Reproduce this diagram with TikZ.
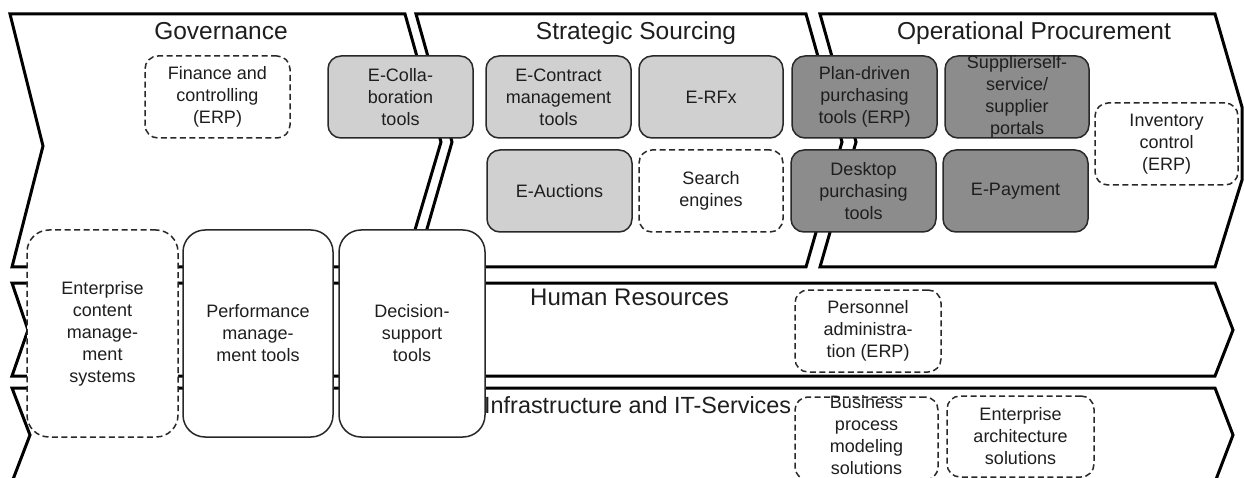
\documentclass[tikz,border=0pt]{standalone}
\usepackage{fontspec}
\setmainfont{Liberation Sans}
\definecolor{lightfill}{RGB}{208,208,208}
\definecolor{darkfill}{RGB}{140,140,140}
\definecolor{edgegray}{RGB}{40,40,40}
\definecolor{txtgray}{RGB}{30,30,30}
\newcommand\mybxfont{\fontsize{18}{22}\selectfont}
\newcommand\myhdfont{\fontsize{24.5}{29}\selectfont}
\begin{document}
\begin{tikzpicture}[x=1pt,y=-1pt,
  chev/.style={draw=black, line width=3pt, fill=white, line join=miter},
  basebox/.style={rectangle, rounded corners=13pt, line width=1.5pt, draw=edgegray, inner sep=0pt, align=center, font=\mybxfont, text=txtgray},
  lbox/.style={basebox, fill=lightfill},
  dbox/.style={basebox, fill=darkfill},
  dashbox/.style={basebox, fill=white, dash pattern=on 6pt off 3.5pt},
  tallbox/.style={basebox, fill=white, rounded corners=22pt},
  talldash/.style={dashbox, rounded corners=22pt},
  heading/.style={font=\myhdfont, inner sep=0pt, anchor=base, text=txtgray},
  boxtxt/.style={inner sep=0pt, align=center, font=\mybxfont, text=txtgray}
]
\useasboundingbox (0,0) rectangle (1244,478);
\clip (0,0) rectangle (1244,478);

% chevrons
\draw[chev] (10,14) -- (405,14) -- (441,142) -- (404,267) -- (12,267) -- (43,146) -- cycle;
\draw[chev] (416,14) -- (806,14) -- (842,142) -- (806,267) -- (416,267) -- (452,142) -- cycle;
\draw[chev] (820,14) -- (1215,14) -- (1242,107) -- (1242,180) -- (1215,267) -- (820,267) -- (856,142) -- cycle;
\draw[chev] (12,283) -- (1215,283) -- (1233,330) -- (1215,376) -- (12,376) -- (28,330) -- cycle;
\draw[chev] (12,388) -- (1215,388) -- (1233,435) -- (1215,482) -- (12,482) -- (30,435) -- cycle;

% headings
\node[heading] (gov) at (221,40) {Governance};
\node[heading] (ss) at (636,40) {Strategic Sourcing};
\node[heading] (op) at (1034,40) {Operational Procurement};
\node[heading, anchor=base west, font=\fontsize{24}{29}\selectfont] (hr) at (530,305) {Human Resources};
\node[heading, anchor=base west, font=\fontsize{23.4}{28}\selectfont] (infra) at (484,413) {Infrastructure and IT-Services};

% top boxes
\node[dashbox, minimum width=145pt, minimum height=82pt] (fin) at (217.5,97) {Finance and\\controlling\\(ERP)};
\node[lbox, minimum width=145pt, minimum height=82pt] (ecol) at (400.5,97) {E-Colla-\\boration\\tools};
\node[lbox, minimum width=145pt, minimum height=82pt] (econ) at (558.5,97) {E-Contract\\management\\tools};
\node[lbox, minimum width=144pt, minimum height=82pt] (erfx) at (711,97) {E-RFx};
\node[dbox, minimum width=145pt, minimum height=82pt] (plan) at (864.5,97) {Plan-driven\\purchasing\\tools (ERP)};
\node[dbox, minimum width=144pt, minimum height=82pt] (supp) at (1017,97) {};
\node[boxtxt] (supptxt) at (supp.center) {Supplierself-\\service/\\supplier\\portals};
\node[lbox, minimum width=145pt, minimum height=82pt] (eauc) at (559.5,191) {E-Auctions};
\node[dashbox, minimum width=144pt, minimum height=82pt] (srch) at (711,191) {Search\\engines};
\node[dbox, minimum width=145pt, minimum height=82pt] (desk) at (863.5,191) {Desktop\\purchasing\\tools};
\node[dbox, minimum width=145pt, minimum height=82pt] (epay) at (1015.5,191) {E-Payment};
\node[dashbox, minimum width=143pt, minimum height=82pt] (inv) at (1166.5,144) {Inventory\\control\\(ERP)};

% tall boxes
\node[talldash, minimum width=151pt, minimum height=207pt] (ecm) at (102.5,333.5) {Enterprise\\content\\manage-\\ment\\systems};
\node[tallbox, minimum width=150pt, minimum height=207pt] (perf) at (258,333.5) {Performance\\manage-\\ment tools};
\node[tallbox, minimum width=146pt, minimum height=207pt] (dec) at (412,333.5) {Decision-\\support\\tools};

% lower boxes
\node[dashbox, minimum width=146pt, minimum height=82pt] (pers) at (868,331) {Personnel\\administra-\\tion (ERP)};
\node[dashbox, minimum width=143pt, minimum height=83pt] (bpm) at (866.5,438.5) {};
\node[boxtxt] (bpmtxt) at (866.5,435.5) {Business\\process\\modeling\\solutions};
\node[dashbox, minimum width=147pt, minimum height=81pt] (ea) at (1020.5,436.5) {Enterprise\\architecture\\solutions};
\end{tikzpicture}
\end{document}
